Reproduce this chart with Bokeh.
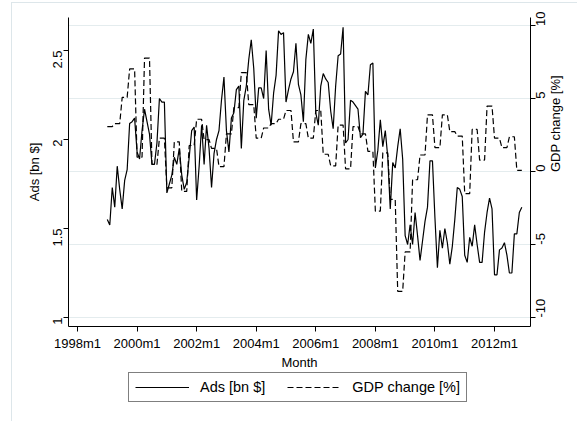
import math
import numpy as np
from bokeh.plotting import figure
from bokeh.layouts import column
from bokeh.models import (Range1d, LinearAxis, FixedTicker, Grid, Legend,
                          LegendItem, NumeralTickFormatter)
from bokeh.embed import file_html
from bokeh.resources import INLINE

# Stata monthly dates (%tm): 456 = 1998m1; data start 1999m1
start_month = 468

ads_bn = [
    1.55, 1.52, 1.73, 1.62, 1.85, 1.72, 1.61, 1.77, 1.83, 2.09, 2.10, 2.12,
    1.93, 1.89, 2.05, 2.17, 2.10, 2.03, 1.86, 1.86, 1.98, 2.23, 2.21, 2.21,
    1.70, 1.75, 1.80, 1.90, 1.86, 1.95, 1.80, 1.72, 1.76, 1.90, 2.05, 2.07,
    1.66, 1.85, 2.08, 1.86, 2.08, 1.95, 1.73, 1.92, 2.00, 2.05, 2.22, 2.35,
    2.05, 1.93, 2.12, 2.15, 2.28, 2.30, 1.95, 2.22, 2.30, 2.45, 2.56, 2.40,
    2.12, 2.29, 2.29, 2.23, 2.50, 2.17, 2.08, 2.26, 2.36, 2.61, 2.59, 2.60,
    2.21, 2.28, 2.34, 2.38, 2.54, 2.31, 2.25, 2.10, 2.45, 2.59, 2.54, 2.62,
    2.15, 2.08, 2.30, 2.37, 2.34, 2.32, 2.16, 2.06, 2.30, 2.47, 2.48, 2.63,
    1.98, 2.00, 2.22, 2.21, 2.19, 2.17, 2.01, 2.03, 2.27, 2.25, 2.42, 2.43,
    1.84, 1.94, 2.11, 1.96, 2.05, 1.90, 1.61, 1.87, 1.84, 1.96, 2.06, 1.89,
    1.46, 1.41, 1.52, 1.41, 1.59, 1.46, 1.32, 1.43, 1.54, 1.62, 1.88, 1.88,
    1.56, 1.28, 1.49, 1.39, 1.50, 1.42, 1.30, 1.40, 1.55, 1.73, 1.72, 1.68,
    1.35, 1.31, 1.45, 1.40, 1.52, 1.41, 1.31, 1.31, 1.48, 1.59, 1.67, 1.61,
    1.24, 1.24, 1.38, 1.39, 1.42, 1.35, 1.25, 1.25, 1.47, 1.47, 1.59, 1.62,
]

# quarterly GDP change, 1999q1 .. 2012q4 (shown for each month of the quarter)
gdp_change_q = [
    3.1, 3.3, 5.1, 7.05, 1.0, 7.8, 0.5, 2.3,
    -1.1, 2.05, -1.35, 1.8, 3.6, 2.2, 1.6, 0.35,
    2.6, 4.4, 6.8, 4.6, 2.3, 3.0, 3.3, 3.6,
    4.2, 2.05, 3.3, 2.3, 4.2, 1.2, 0.4, 3.2,
    0.2, 3.1, 2.6, 1.4, -2.7, 1.3, -1.9, -8.2,
    -5.5, -0.55, 1.15, 3.9, 1.65, 3.9, 2.75, 2.45,
    -1.5, 2.9, 0.8, 4.5, 2.3, 1.65, 2.4, 0.1,
]

x_tick_values = [456, 480, 504, 528, 552, 576, 600, 624]
x_tick_labels = ["1998m1", "2000m1", "2002m1", "2004m1",
                 "2006m1", "2008m1", "2010m1", "2012m1"]
ads_ticks = [1, 1.5, 2, 2.5]
gdp_ticks = [-10, -5, 0, 5, 10]

months = list(range(start_month, start_month + len(ads_bn)))
gdp_monthly = list(np.repeat(gdp_change_q, 3))

FONT = "Liberation Sans"
FS = "13px"

p = figure(width=565, height=369, output_backend="svg", toolbar_location=None,
           x_range=Range1d(456 - 3.63, 456 + 182.5),
           y_range=Range1d(0.9496, 2.685),
           min_border_left=56, min_border_right=47,
           min_border_top=14, min_border_bottom=45)
p.extra_y_ranges = {"gdp": Range1d(-10.615, 10.58)}
p.outline_line_color = None
p.background_fill_color = "white"
p.border_fill_color = "white"
p.xgrid.visible = False
p.ygrid.visible = False

grid = Grid(dimension=1, ticker=FixedTicker(ticks=gdp_ticks), y_range_name="gdp",
            grid_line_color="#e4ecee", grid_line_width=1)
p.add_layout(grid)

r_ads = p.line(months, ads_bn, line_color="black", line_width=1.2)
r_gdp = p.line(months, gdp_monthly, y_range_name="gdp", line_color="black",
               line_width=1.2, line_dash="6 3")

ax_r = LinearAxis(y_range_name="gdp", ticker=FixedTicker(ticks=gdp_ticks),
                  axis_label="GDP change [%]")
ax_r.major_label_overrides = {t: str(t) for t in gdp_ticks}
p.add_layout(ax_r, "right")

p.xaxis.ticker = FixedTicker(ticks=x_tick_values)
p.xaxis.major_label_overrides = dict(zip(x_tick_values, x_tick_labels))
p.xaxis.axis_label = "Month"
p.yaxis[0].ticker = FixedTicker(ticks=ads_ticks)
p.yaxis[0].formatter = NumeralTickFormatter(format="0.[0]")
p.yaxis[0].axis_label = "Ads [bn $]"

for ax in [p.xaxis[0], p.yaxis[0], ax_r]:
    ax.axis_line_color = "black"
    ax.axis_line_width = 1
    ax.major_tick_line_color = "black"
    ax.major_tick_in = 0
    ax.major_tick_out = 5
    ax.minor_tick_line_color = None
    ax.major_label_text_font = FONT
    ax.major_label_text_font_size = FS
    ax.major_label_text_color = "black"
    ax.axis_label_text_font = FONT
    ax.axis_label_text_font_size = FS
    ax.axis_label_text_font_style = "normal"
    ax.axis_label_text_color = "black"

p.xaxis.major_label_standoff = 4
p.xaxis.axis_label_standoff = 1
p.yaxis[0].major_label_orientation = math.pi / 2
p.yaxis[0].major_label_standoff = 6
p.yaxis[0].axis_label_standoff = 4
ax_r.major_label_orientation = math.pi / 2
ax_r.major_label_standoff = 5
ax_r.axis_label_standoff = 3
ax_r.axis_label_orientation = math.pi / 2

# legend strip below the chart (its frame is aligned with the chart's frame)
p2 = figure(width=565, height=49, output_backend="svg", toolbar_location=None,
            x_range=Range1d(0, 1), y_range=Range1d(0, 1),
            x_axis_type=None, y_axis_type=None,
            min_border_left=0, min_border_right=0,
            min_border_top=0, min_border_bottom=0)
p2.outline_line_color = None
p2.xgrid.visible = False
p2.ygrid.visible = False
p2.border_fill_color = "white"
l_ads = p2.line([-5, -4], [-5, -5], line_color="black", line_width=1.2)
l_gdp = p2.line([-5, -4], [-5, -5], line_color="black", line_width=1.2,
                line_dash="6 3")

legend = Legend(items=[LegendItem(label="Ads [bn $]", renderers=[l_ads]),
                       LegendItem(label="GDP change [%]", renderers=[l_gdp])],
                orientation="horizontal", location=(60, 19))
legend.border_line_color = "black"
legend.border_line_width = 1
legend.background_fill_color = "white"
legend.background_fill_alpha = 1
legend.label_text_font = FONT
legend.label_text_font_size = "14.5px"
legend.label_text_color = "black"
legend.glyph_width = 54
legend.glyph_height = 16
legend.label_height = 16
legend.label_standoff = 11
legend.spacing = 22
legend.padding = 6
legend.margin = 0
p2.add_layout(legend, "center")

layout = column(p, p2, spacing=0)
layout.margin = (2, 0, 0, 11)
layout.styles = {"border-left": "1px solid #dde6ea", "border-top": "1px solid #dde6ea"}
open("out.html", "w").write(file_html(layout, INLINE))
